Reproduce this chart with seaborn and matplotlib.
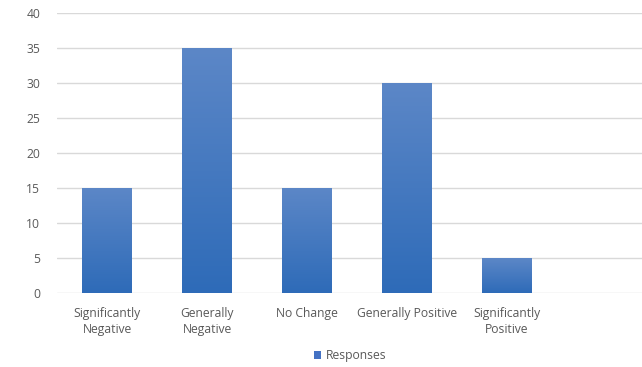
import numpy as np
import pandas as pd
import matplotlib
matplotlib.use("Agg")
import matplotlib.pyplot as plt
from matplotlib.colors import LinearSegmentedColormap
from matplotlib.patches import Patch
import seaborn as sns

categories = ["Significantly\nNegative", "Generally\nNegative", "No Change",
              "Generally Positive", "Significantly\nPositive"]
responses = [15, 35, 15, 30, 5]
y_ticks = [0, 5, 10, 15, 20, 25, 30, 35, 40]

sns.set_theme(style="white")
plt.rcParams["font.family"] = ["Open Sans", "DejaVu Sans"]
text_color = "#595959"

df = pd.DataFrame({"category": categories, "Responses": responses})

fig = plt.figure(figsize=(6.42, 3.67), dpi=100)
ax = fig.add_axes([57 / 642, 1 - 293 / 367, 1 - 57 / 642, (293 - 13) / 367])

sns.barplot(data=df, x="category", y="Responses", color="#4472c4",
            width=0.5, ax=ax, saturation=1)

# vertical gradient fill for each bar
grad_cmap = LinearSegmentedColormap.from_list("bar", ["#2e6bb8", "#5c87c7"])
grad = np.linspace(0, 1, 256).reshape(-1, 1)
for p in ax.patches:
    x0, y0 = p.get_x(), p.get_y()
    w, h = p.get_width(), p.get_height()
    p.set_facecolor("none")
    p.set_edgecolor("none")
    im = ax.imshow(grad, cmap=grad_cmap, origin="lower", aspect="auto",
                   extent=[x0, x0 + w, y0, y0 + h], zorder=2)
    im.set_clip_path(p)

ax.set_xlim(-0.5, 5.35)
ax.set_ylim(0, 40)
ax.set_yticks(y_ticks)
ax.grid(axis="y", color="#d9d9d9", linewidth=1)
ax.set_axisbelow(True)
for s in ax.spines.values():
    s.set_visible(False)
ax.set_xlabel("")
ax.set_ylabel("")
ax.tick_params(axis="both", length=0, labelsize=8.7, colors=text_color)
ax.tick_params(axis="y", pad=12)
ax.tick_params(axis="x", pad=10)
for lbl in ax.get_xticklabels():
    lbl.set_linespacing(1.3)

handle = Patch(facecolor="#4472c4", edgecolor="none")
fig.legend([handle], ["Responses"], loc="center", bbox_to_anchor=(350 / 642, 1 - 356 / 367),
           frameon=False, fontsize=8.7, labelcolor=text_color,
           handlelength=0.6, handleheight=0.6, handletextpad=0.4)

fig.savefig("out.png", dpi=100)
